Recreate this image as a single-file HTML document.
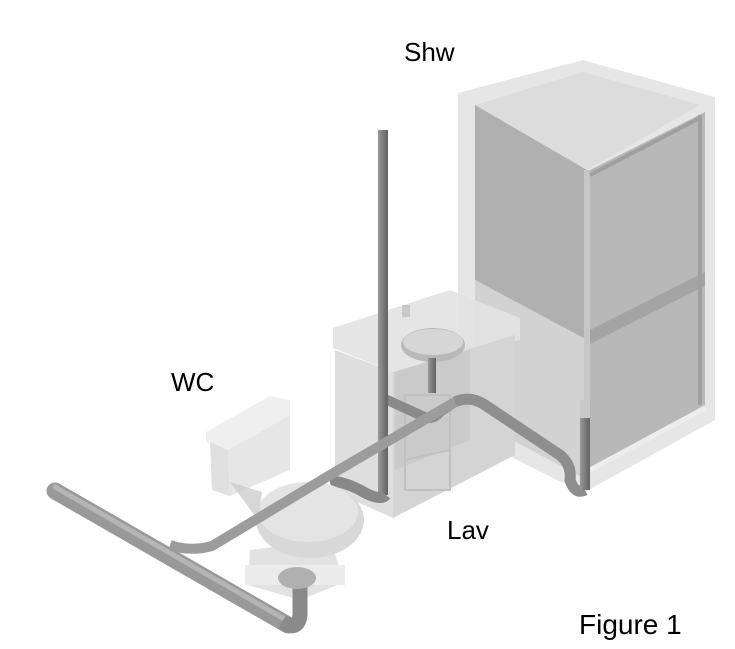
<!DOCTYPE html>
<html><head><style>
html,body{margin:0;padding:0;background:#fff;}
svg{display:block;}
text{font-family:"Liberation Sans",Arial,sans-serif;fill:#000;}
</style></head><body>
<svg width="735" height="649" viewBox="0 0 735 649" xmlns="http://www.w3.org/2000/svg">
<defs>
<linearGradient id="pg" x1="0" y1="0" x2="0" y2="1"><stop offset="0" stop-color="#b8b8b8"/><stop offset="0.5" stop-color="#8e8e8e"/><stop offset="1" stop-color="#6e6e6e"/></linearGradient>
<linearGradient id="vg" x1="0" y1="0" x2="1" y2="0"><stop offset="0" stop-color="#9a9a9a"/><stop offset="0.5" stop-color="#7c7c7c"/><stop offset="1" stop-color="#626262"/></linearGradient>
</defs>

<!-- Shower enclosure -->
<polygon points="458,93 583,60 715,97 715,420 583,493 458,430" fill="#e6e6e6"/>
<polygon points="475,105 583,72 700,105 587,170" fill="#dcdcdc"/>
<polygon points="475,105 587,170 587,340 475,280" fill="#b0b0b0"/>
<polygon points="590,170 705,112 705,405 590,470" fill="#b8b8b8"/>
<polygon points="475,280 587,340 587,480 475,420" fill="#d2d2d2"/>
<polygon points="590,330 705,272 705,286 590,344" fill="#a4a4a4"/>
<line x1="587" y1="170" x2="587" y2="490" stroke="#c6c6c6" stroke-width="6"/>
<line x1="700" y1="115" x2="700" y2="405" stroke="#a0a0a0" stroke-width="4"/>
<line x1="590" y1="175" x2="700" y2="118" stroke="#a0a0a0" stroke-width="4"/>
<line x1="590" y1="470" x2="705" y2="408" stroke="#ededed" stroke-width="5"/>

<!-- Vanity -->
<polygon points="333,328 450,290 520,318 520,340 393,372 333,348" fill="#e2e2e2" opacity="0.9"/>
<polygon points="335,350 393,372 393,518 335,492" fill="#dedede"/>
<polygon points="393,372 515,335 515,455 393,518" fill="#d4d4d4"/>
<polygon points="395,372 470,350 470,440 395,470" fill="#c6c6c6" opacity="0.7"/>
<rect x="405" y="395" width="45" height="95" fill="none" stroke="#c0c0c0" stroke-width="2"/>
<line x1="405" y1="460" x2="450" y2="450" stroke="#c0c0c0" stroke-width="2"/>
<ellipse cx="433" cy="345" rx="32" ry="17" fill="#b9b9b9"/>
<ellipse cx="433" cy="342" rx="30" ry="13" fill="#d6d6d6"/>
<rect x="402" y="305" width="8" height="12" fill="#c8c8c8"/>

<!-- Lav drain & piping to shower -->
<rect x="428" y="358" width="8" height="35" fill="url(#vg)"/>
<path d="M383,398 L420,415 Q432,422 440,412 L455,402" fill="none" stroke="#8a8a8a" stroke-width="10"/>
<path d="M455,402 Q470,395 485,405 L560,455 Q572,465 570,480 Q575,495 585,490" fill="none" stroke="#8e8e8e" stroke-width="11"/>
<rect x="580" y="400" width="10" height="90" fill="url(#vg)"/>
<rect x="580" y="400" width="10" height="18" fill="#c9c9c9"/>

<!-- Vent stack -->
<rect x="378" y="130" width="10" height="365" fill="url(#vg)"/>
<path d="M330,482 Q340,480 360,490 Q380,502 386,495" fill="none" stroke="#888" stroke-width="11"/>

<!-- Toilet tank -->
<polygon points="206,432 270,396 290,400 290,415 228,450 206,442" fill="#efefef"/>
<polygon points="210,442 228,450 230,496 212,490" fill="#e0e0e0"/>
<polygon points="228,450 290,415 290,470 230,496" fill="#e6e6e6"/>
<!-- Toilet bowl/base -->
<polygon points="250,550 330,540 345,582 300,600 248,585" fill="#e2e2e2"/>
<rect x="245" y="565" width="100" height="20" fill="#ececec"/>
<ellipse cx="310" cy="520" rx="54" ry="38" fill="#d8d8d8"/>
<ellipse cx="308" cy="512" rx="50" ry="30" fill="#e4e4e4"/>
<polygon points="230,482 262,492 258,520" fill="#cdcdcd" opacity="0.8"/>

<!-- branch pipe -->
<path d="M170,545 Q190,552 212,546 L330,475 L455,402" fill="none" stroke="#9c9c9c" stroke-width="10"/>

<!-- Main drain -->
<line x1="55" y1="491" x2="288" y2="625" stroke="#999" stroke-width="17" stroke-linecap="round"/>
<line x1="55" y1="487" x2="288" y2="621" stroke="#b5b5b5" stroke-width="5" stroke-linecap="round"/>
<path d="M282,622 Q298,632 300,615 L300,582" fill="none" stroke="#8a8a8a" stroke-width="15"/>
<ellipse cx="297" cy="578" rx="19" ry="11" fill="#b0b0b0"/>

<!-- Labels -->
<text x="404" y="61" font-size="26">Shw</text>
<text x="171" y="391" font-size="26">WC</text>
<text x="447" y="539" font-size="26">Lav</text>
<text x="579" y="634" font-size="28">Figure 1</text>
</svg>
</body></html>
